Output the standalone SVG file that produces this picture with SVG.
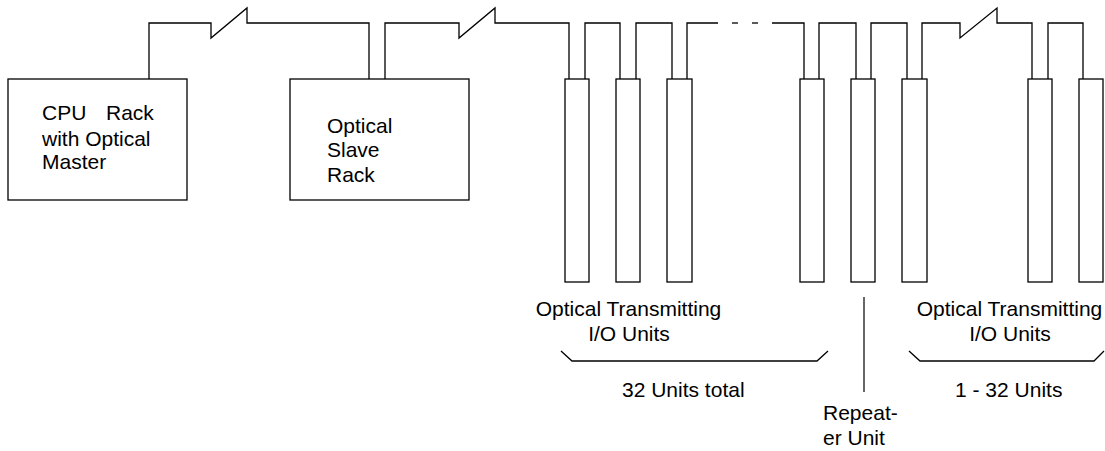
<svg xmlns="http://www.w3.org/2000/svg" width="1105" height="451" viewBox="0 0 1105 451">
<style>
.box{fill:#fff;stroke:#000;stroke-width:1.3}
.w{fill:none;stroke:#000;stroke-width:1.3;stroke-linejoin:miter}
.t{font-family:"Liberation Sans",Arial,sans-serif;font-size:21px;fill:#000}
</style>
<rect width="1105" height="451" fill="#fff"/>
<g id="connectors">
<polyline class="w" points="149,79 149,23 211,23 211,38 247,8 247,23 369,23 369,79"/>
<polyline class="w" points="385,79 385,23 459,23 459,38 495,8 495,23 569,23 569,79"/>
<polyline class="w" points="585,79 585,23 620,23 620,79"/>
<polyline class="w" points="636,79 636,23 672,23 672,79"/>
<polyline class="w" points="687,79 687,23 718,23"/>
<line class="w" x1="732" y1="23" x2="738" y2="23"/>
<line class="w" x1="752" y1="23" x2="758" y2="23"/>
<polyline class="w" points="772,23 804,23 804,79"/>
<polyline class="w" points="819,79 819,23 856,23 856,79"/>
<polyline class="w" points="871,79 871,23 907,23 907,79"/>
<polyline class="w" points="922,79 922,23 960,23 960,38 997,8 997,23 1032,23 1032,79"/>
<polyline class="w" points="1048,79 1048,23 1083,23 1083,79"/>
</g>
<g id="cpu-rack">
<rect class="box" x="8" y="79" width="179" height="121"/>
<text class="t" x="42" y="120">CPU<tspan x="106">Rack</tspan></text>
<text class="t" x="42" y="146">with Optical</text>
<text class="t" x="42" y="169">Master</text>
</g>
<g id="slave-rack">
<rect class="box" x="290" y="79" width="179" height="121"/>
<text class="t" x="327" y="133">Optical</text>
<text class="t" x="327" y="157">Slave</text>
<text class="t" x="327" y="182">Rack</text>
</g>
<g id="unit-1"><rect class="box" x="565" y="79" width="24" height="203"/></g>
<g id="unit-2"><rect class="box" x="616" y="79" width="24" height="203"/></g>
<g id="unit-3"><rect class="box" x="667" y="79" width="25" height="203"/></g>
<g id="unit-4"><rect class="box" x="800" y="79" width="24" height="203"/></g>
<g id="repeater-unit"><rect class="box" x="851" y="79" width="24" height="203"/></g>
<g id="unit-6"><rect class="box" x="902" y="79" width="25" height="203"/></g>
<g id="unit-7"><rect class="box" x="1028" y="79" width="24" height="203"/></g>
<g id="unit-8"><rect class="box" x="1079" y="79" width="24" height="203"/></g>
<g id="labels">
<text class="t" x="628.5" y="316" text-anchor="middle">Optical Transmitting</text>
<text class="t" x="629" y="341" text-anchor="middle">I/O Units</text>
<polyline class="w" points="561,351 572,361 817,361 828,351"/>
<text class="t" x="622" y="397">32 Units total</text>
<line x1="864" y1="297" x2="864" y2="392" stroke="#333" stroke-width="1.5"/>
<text class="t" x="823" y="420">Repeat-</text>
<text class="t" x="823" y="445">er Unit</text>
<text class="t" x="1009.5" y="316" text-anchor="middle">Optical Transmitting</text>
<text class="t" x="1010" y="341" text-anchor="middle">I/O Units</text>
<polyline class="w" points="909,351 920,361 1094,361 1104,351"/>
<text class="t" x="955" y="397">1 - 32 Units</text>
</g>
</svg>
